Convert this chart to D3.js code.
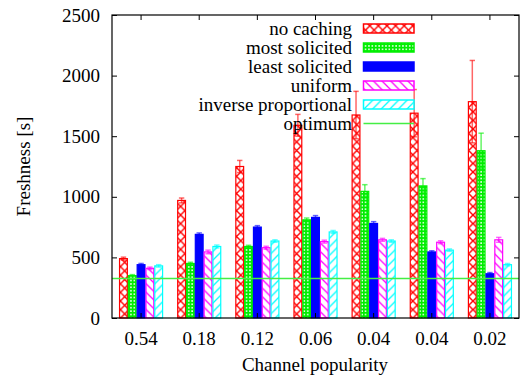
<!DOCTYPE html>
<html>
<head>
<meta charset="utf-8">
<script src="https://cdn.jsdelivr.net/npm/d3@7"></script>
</head>
<body style="margin:0">
<svg id="chart" width="524" height="377" font-family="Liberation Serif"></svg>
<script>
// Channel popularity of each group (two groups share 0.04)
const popularity = ["0.54", "0.18", "0.12", "0.06", "0.04", "0.04", "0.02"];

// Mean freshness [s] per caching strategy, one value per channel
const noCaching       = [490, 970, 1250, 1590, 1675, 1690, 1785];
const mostSolicited   = [350, 450, 590, 810, 1045, 1090, 1380];
const leastSolicited  = [440, 690, 750, 830, 780, 545, 365];
const uniform         = [410, 545, 580, 630, 645, 625, 645];
const inverseProp     = [430, 590, 635, 710, 635, 560, 440];

// Half-width of the error bars
const noCachingErr      = [12, 20, 50, 90, 195, 195, 340];
const mostSolicitedErr  = [8, 10, 10, 15, 55, 60, 145];
const leastSolicitedErr = [10, 12, 12, 15, 15, 10, 10];
const uniformErr        = [10, 15, 12, 12, 12, 12, 20];
const inversePropErr    = [10, 12, 10, 12, 10, 10, 10];

// Optimum freshness (reference line)
const optimum = 325;

const yTicks = [0, 500, 1000, 1500, 2000, 2500];

const FONT = '"Liberation Serif"';
const FS = "19px";

const series = [
  { name: "no caching",           values: noCaching,      err: noCachingErr,      color: "#ff0000", fill: "url(#pRed)" },
  { name: "most solicited",       values: mostSolicited,  err: mostSolicitedErr,  color: "#00ee00", fill: "url(#pGreen)" },
  { name: "least solicited",      values: leastSolicited, err: leastSolicitedErr, color: "#0000ff", fill: "#0000ff" },
  { name: "uniform",              values: uniform,        err: uniformErr,        color: "#ff00ff", fill: "url(#pMagenta)" },
  { name: "inverse proportional", values: inverseProp,    err: inversePropErr,    color: "#00ffff", fill: "url(#pCyan)" }
];

const svg = d3.select("#chart");
const m = { left: 112, right: 519, top: 15, bottom: 318 };

// text helper with an explicit serif face
const styleText = sel => sel
  .attr("font-family", "Liberation Serif")
  .style("font-family", FONT)
  .style("font-size", FS)
  .attr("fill", "#000");

// ---- fill patterns ----
const defs = svg.append("defs");
const pr = defs.append("pattern").attr("id", "pRed").attr("patternUnits", "userSpaceOnUse")
  .attr("width", 8.6).attr("height", 8.6);
pr.append("rect").attr("width", 8.6).attr("height", 8.6).attr("fill", "#fff");
pr.append("path").attr("d", "M0,0L8.6,8.6M8.6,0L0,8.6").attr("stroke", "#ff0000").attr("stroke-width", 1.4);

const pg = defs.append("pattern").attr("id", "pGreen").attr("patternUnits", "userSpaceOnUse")
  .attr("width", 3.4).attr("height", 3.4);
pg.append("rect").attr("width", 3.4).attr("height", 3.4).attr("fill", "#00ee00");
pg.append("rect").attr("x", 1).attr("y", 1).attr("width", 1.5).attr("height", 1.5).attr("fill", "#fff");

const pm = defs.append("pattern").attr("id", "pMagenta").attr("patternUnits", "userSpaceOnUse")
  .attr("width", 8.6).attr("height", 8.6);
pm.append("rect").attr("width", 8.6).attr("height", 8.6).attr("fill", "#fff");
pm.append("path").attr("d", "M0,0L8.6,8.6M-4.3,4.3L4.3,12.9M4.3,-4.3L12.9,4.3")
  .attr("stroke", "#ff00ff").attr("stroke-width", 1.3);

const pc = defs.append("pattern").attr("id", "pCyan").attr("patternUnits", "userSpaceOnUse")
  .attr("width", 8.6).attr("height", 8.6);
pc.append("rect").attr("width", 8.6).attr("height", 8.6).attr("fill", "#fff");
pc.append("path").attr("d", "M0,8.6L8.6,0M-4.3,4.3L4.3,-4.3M4.3,12.9L12.9,4.3")
  .attr("stroke", "#00ffff").attr("stroke-width", 1.3);

// ---- scales ----
const x = d3.scaleBand().domain(d3.range(popularity.length)).range([m.left, m.right]).padding(0);
const xs = d3.scaleBand().domain(d3.range(series.length)).range([0, x.bandwidth()]).paddingOuter(0.8).paddingInner(0);
const y = d3.scaleLinear().domain([0, 2500]).range([m.bottom, m.top]);

// ---- bars ----
const groups = svg.append("g").selectAll("g").data(series).join("g");
groups.selectAll("rect").data(s => s.values.map((v, i) => ({ v, i, s })))
  .join("rect")
  .attr("x", d => x(d.i) + xs(series.indexOf(d.s)) + 0.5)
  .attr("y", d => y(d.v))
  .attr("width", xs.bandwidth() - 1)
  .attr("height", d => y(0) - y(d.v))
  .attr("fill", d => d.s.fill)
  .attr("stroke", d => d.s.color)
  .attr("stroke-width", 1.2);

// ---- error bars ----
const errG = svg.append("g");
series.forEach((s, k) => {
  s.values.forEach((v, i) => {
    const cx = x(i) + xs(k) + xs.bandwidth() / 2;
    const lo = y(v - s.err[i]), hi = y(v + s.err[i]);
    const g = errG.append("g").attr("stroke", s.color).attr("stroke-opacity", 0.6).attr("stroke-width", 1.5);
    g.append("line").attr("x1", cx).attr("x2", cx).attr("y1", lo).attr("y2", hi);
    g.append("line").attr("x1", cx - 2.7).attr("x2", cx + 2.7).attr("y1", hi).attr("y2", hi);
    g.append("line").attr("x1", cx - 2.7).attr("x2", cx + 2.7).attr("y1", lo).attr("y2", lo);
  });
});

// ---- optimum line ----
svg.append("line")
  .attr("x1", m.left).attr("x2", m.right)
  .attr("y1", y(optimum)).attr("y2", y(optimum))
  .attr("stroke", "#44ee44").attr("stroke-width", 1.5);

// ---- axes ----
const axisStyle = g => {
  g.attr("font-family", "Liberation Serif").attr("font-size", 19);
  g.select(".domain").remove();
  g.selectAll("line").attr("stroke", "#000");
  g.selectAll("text").call(styleText);
};
svg.append("g").attr("transform", `translate(${m.left},0)`)
  .call(d3.axisLeft(y).tickValues(yTicks).tickSize(-5).tickPadding(12).tickFormat(d3.format("d")))
  .call(axisStyle);
svg.append("g").attr("transform", `translate(${m.right},0)`)
  .call(d3.axisRight(y).tickValues(yTicks).tickSize(-5).tickFormat(""))
  .call(axisStyle);
svg.append("g").attr("transform", `translate(0,${m.bottom})`)
  .call(d3.axisBottom(x).tickSize(-5).tickPadding(13.5).tickFormat(i => popularity[i]))
  .call(axisStyle);
svg.append("g").attr("transform", `translate(0,${m.top})`)
  .call(d3.axisTop(x).tickSize(-5).tickFormat(""))
  .call(axisStyle);

// frame
svg.append("rect")
  .attr("x", m.left).attr("y", m.top)
  .attr("width", m.right - m.left).attr("height", m.bottom - m.top)
  .attr("fill", "none").attr("stroke", "#000").attr("stroke-width", 1.2);

// ---- axis titles ----
svg.append("text")
  .attr("x", (m.left + m.right) / 2 - 0.5).attr("y", 371)
  .attr("text-anchor", "middle")
  .call(styleText)
  .text("Channel popularity");
svg.append("text")
  .attr("transform", "translate(30,166.5) rotate(-90)")
  .attr("text-anchor", "middle")
  .call(styleText)
  .text("Freshness [s]");

// ---- legend ----
const leg = svg.append("g");
const legItems = series.map(s => ({ name: s.name, s })).concat([{ name: "optimum", s: null }]);
legItems.forEach((it, r) => {
  const cy = 28.5 + r * 19;
  leg.append("text")
    .attr("x", 352).attr("y", cy + 6)
    .attr("text-anchor", "end")
    .call(styleText)
    .text(it.name);
  if (it.s) {
    leg.append("rect")
      .attr("x", 363.5).attr("y", cy - 4.5)
      .attr("width", 50.5).attr("height", 9)
      .attr("fill", it.s.fill).attr("stroke", it.s.color).attr("stroke-width", 1.5);
  } else {
    leg.append("line")
      .attr("x1", 363.5).attr("x2", 414).attr("y1", cy).attr("y2", cy)
      .attr("stroke", "#44ee44").attr("stroke-width", 1.5);
  }
});
</script>
</body>
</html>
